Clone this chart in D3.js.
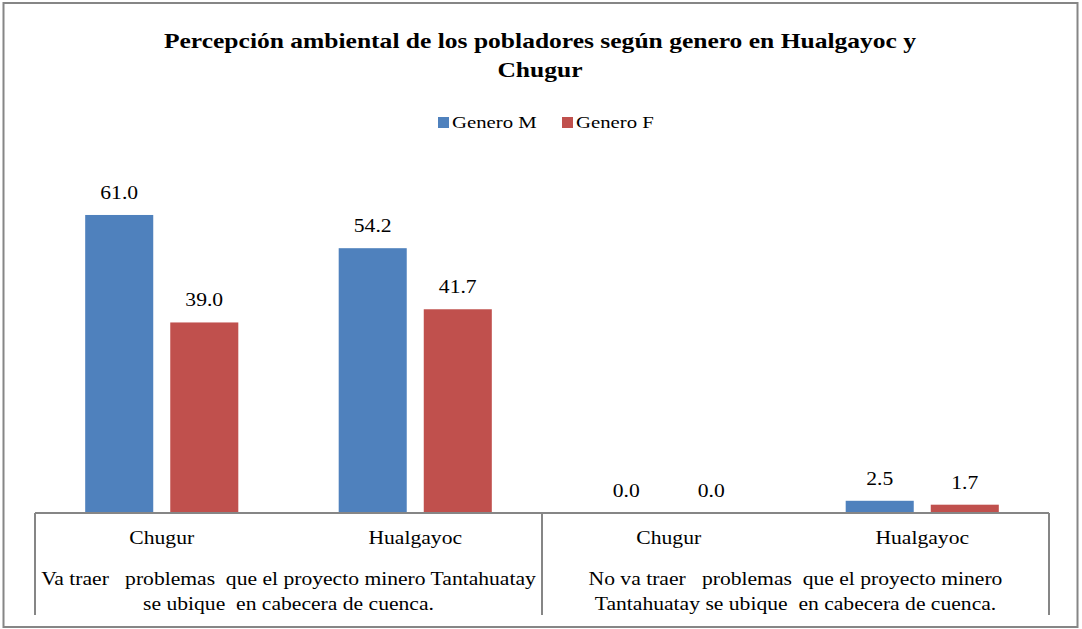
<!doctype html>
<html lang='es'>
<head>
<meta charset='UTF-8'>
<title>Percepción ambiental</title>
<style>
  body, html { margin: 0; padding: 0; background: #fff; }
  svg text { font-family: "Liberation Serif", "Tinos", "Times New Roman", "Noto Serif", "DejaVu Serif", "FreeSerif", serif; fill: #000; }
  .title { font-size: 22px; font-weight: bold; text-anchor: middle; }
  .legend-label { font-size: 17px; }
  .bar-label { font-size: 18px; text-anchor: middle; }
  .cat-label { font-size: 18px; text-anchor: middle; white-space: pre; }
  .frame line { stroke: #868686; stroke-width: 1.3; shape-rendering: crispEdges; }
</style>
</head>
<body>
<script src='https://d3js.org/d3.v7.min.js'></script>
<script>
  // datos
  const places = ['Chugur', 'Hualgayoc', 'Chugur', 'Hualgayoc']
  const groups = [
    ['Va traer   problemas  que el proyecto minero Tantahuatay', 'se ubique  en cabecera de cuenca.'],
    ['No va traer   problemas  que el proyecto minero', 'Tantahuatay se ubique  en cabecera de cuenca.']
  ]
  const series = ['Genero M', 'Genero F']
  const generoM = [61.0, 54.2, 0.0, 2.5]
  const generoF = [39.0, 41.7, 0.0, 1.7]
  const colors = ['#4F81BD', '#C0504D']

  const w = 1082
  const h = 629
  const plot = {left: 35, right: 1049, top: 171, bottom: 513}

  // el original usa una serif ancha; se estira el texto para igualar el ancho
  function stretch(sel, k) {
    sel.each(function() {
      const len = this.getComputedTextLength()
      d3.select(this)
        .attr('textLength', len * k)
        .attr('lengthAdjust', 'spacingAndGlyphs')
    })
  }

  const svg = d3.select('body').append('svg')
    .attr('width', w)
    .attr('height', h)

  // marco exterior
  svg.append('rect')
    .attr('x', 3.5).attr('y', 3)
    .attr('width', 1074).attr('height', 624)
    .attr('fill', '#fff')
    .attr('stroke', '#868686')
    .attr('stroke-width', 2)

  // título
  const titleLines = ['Percepción ambiental de los pobladores según genero en Hualgayoc y', 'Chugur']
  svg.append('g').selectAll('text')
    .data(titleLines)
    .join('text')
    .attr('class', 'title')
    .attr('x', 540)
    .attr('y', (d, i) => 48 + i * 29)
    .text(d => d)
    .call(stretch, 1.16)

  // leyenda
  const legendX = [438, 562]
  series.forEach((s, i) => {
    const g = svg.append('g').attr('transform', `translate(${legendX[i]}, 117)`)
    g.append('rect').attr('width', 11).attr('height', 11).attr('fill', colors[i])
    g.append('text').attr('class', 'legend-label').attr('x', 14).attr('y', 11).text(s)
      .call(stretch, 1.22)
  })

  const cats = places.map((p, i) => i)
  const x0 = d3.scaleBand()
    .domain(cats)
    .range([plot.left, plot.right])
    .padding(0)

  const x1 = d3.scaleBand()
    .domain(series)
    .range([0, x0.bandwidth()])
    .paddingInner(0.2)
    .paddingOuter(0.59)

  const y = d3.scaleLinear()
    .domain([0, 70])
    .range([plot.bottom, plot.top])

  const rows = cats.map(i => ({i, values: [generoM[i], generoF[i]]}))

  const catG = svg.append('g').selectAll('g')
    .data(rows)
    .join('g')
    .attr('transform', d => `translate(${x0(d.i)},0)`)

  catG.selectAll('rect')
    .data(d => d.values.map((v, k) => ({k, v})))
    .join('rect')
    .attr('x', d => x1(series[d.k]))
    .attr('y', d => y(d.v))
    .attr('width', x1.bandwidth())
    .attr('height', d => y(0) - y(d.v))
    .attr('fill', d => colors[d.k])

  catG.selectAll('.bar-label')
    .data(d => d.values.map((v, k) => ({k, v})))
    .join('text')
    .attr('class', 'bar-label')
    .attr('x', d => x1(series[d.k]) + x1.bandwidth() / 2)
    .attr('y', d => y(d.v) - 16)
    .text(d => d.v.toFixed(1))
    .call(stretch, 1.2)

  // eje de categorías
  const frame = svg.append('g').attr('class', 'frame')
  frame.append('line')
    .attr('x1', plot.left).attr('x2', plot.right)
    .attr('y1', plot.bottom).attr('y2', plot.bottom)
  const dividers = [plot.left, x0(2), plot.right]
  frame.selectAll('.div')
    .data(dividers)
    .join('line')
    .attr('class', 'div')
    .attr('x1', d => d).attr('x2', d => d)
    .attr('y1', plot.bottom).attr('y2', 615)

  svg.append('g').selectAll('text')
    .data(places)
    .join('text')
    .attr('class', 'cat-label')
    .attr('x', (d, i) => x0(i) + x0.bandwidth() / 2)
    .attr('y', 544)
    .text(d => d)
    .call(stretch, 1.2)

  groups.forEach((lines, gi) => {
    const cx = (x0(gi * 2) + x0(gi * 2 + 1) + x0.bandwidth()) / 2
    svg.append('g').selectAll('text')
      .data(lines)
      .join('text')
      .attr('class', 'cat-label')
      .attr('x', cx)
      .attr('y', (d, li) => 585 + li * 25)
      .text(d => d)
      .call(stretch, 1.2)
  })
</script>
</body>
</html>
